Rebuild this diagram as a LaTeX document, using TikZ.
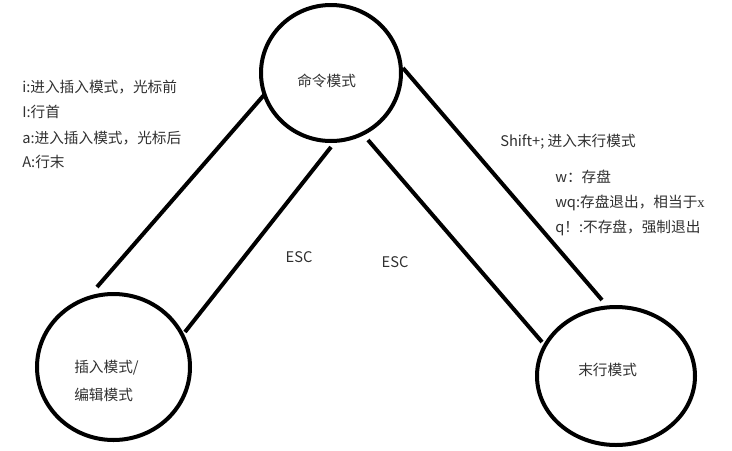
\documentclass[tikz,border=0pt]{standalone}
\usepackage{fontspec}
\setmainfont{Noto Sans CJK SC}
\newfontfamily\serifx{Liberation Serif}
\usetikzlibrary{shapes.geometric,calc}
\definecolor{txt}{HTML}{303030}
\begin{document}
\begin{tikzpicture}[x=0.75pt,y=-0.75pt,
  state/.style={draw=black,ellipse,line width=3pt,inner sep=0pt},
  conn/.style={draw=black,line width=3pt},
  lbl/.style={font=\fontsize{11}{13}\selectfont,text=txt,inner sep=0pt,anchor=west}]
\useasboundingbox (0,0) rectangle (732,450);
% states
\node[state,minimum width=105pt,minimum height=102pt] (cmd) at (331,73) {};
\node[state,minimum width=114.75pt,minimum height=109.5pt] (ins) at (113.5,367) {};
\node[state,minimum width=118.5pt,minimum height=103.5pt] (last) at (616,376) {};
% state labels
\node[lbl] (cmdl) at (297,81) {命令模式};
\node[lbl] (insl1) at (74,368) {插入模式/};
\node[lbl] (insl2) at (74,395) {编辑模式};
\node[lbl] (lastl) at (578,370) {末行模式};
% connectors
\draw[conn] ($(cmd.center)+(-67,22)$) -- ($(ins.center)+(-16.5,-80)$);
\draw[conn] ($(cmd.center)+(0,74)$) -- ($(ins.center)+(71.5,-35)$);
\draw[conn] ($(cmd.center)+(37,67)$) -- ($(last.center)+(-74,-34)$);
\draw[conn] ($(cmd.center)+(72,-5)$) -- ($(last.center)+(-14,-76)$);
% ESC labels
\node[lbl,anchor=center] (esc1) at (299,257) {ESC};
\node[lbl,anchor=center] (esc2) at (395,262) {ESC};
% left notes
\node[lbl] (n1) at (22,87) {i:进入插入模式，光标前};
\node[lbl] (n2) at (22,112) {I:行首};
\node[lbl] (n3) at (22,138) {a:进入插入模式，光标后};
\node[lbl] (n4) at (22,162) {A:行末};
% right notes
\node[lbl] (r1) at (500,142) {Shift+;\ 进入末行模式};
\node[lbl] (r2) at (555,177) {w：存盘};
\node[lbl] (r3) at (555,203) {wq:存盘退出，相当于{\serifx x}};
\node[lbl] (r4) at (555,228) {q！:不存盘，强制退出};
\end{tikzpicture}
\end{document}
